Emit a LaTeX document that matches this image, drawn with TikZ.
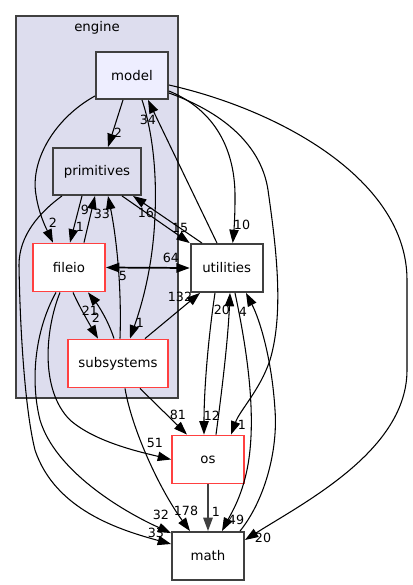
\documentclass[tikz,border=0pt]{standalone}
\usepackage{fontspec}
\setmainfont{DejaVu Sans}
\usetikzlibrary{arrows.meta,calc}
\definecolor{clfill}{HTML}{DDDDEE}
\definecolor{modfill}{HTML}{EEEEFF}
\definecolor{bord}{HTML}{404040}
\definecolor{redb}{HTML}{FF4040}
\begin{document}
\begin{tikzpicture}[x=0.75pt,y=-0.75pt,
  dnode/.style={draw=bord,line width=1.4pt,minimum width=54pt,minimum height=36pt,inner sep=0pt,font=\fontsize{10}{12}\selectfont},
  rnode/.style={dnode,draw=redb,fill=white},
  dep/.style={-{Triangle[length=10pt,width=7pt]},line width=0.8pt},
  dep2/.style={{Triangle[length=10pt,width=7pt]}-{Triangle[length=10pt,width=7pt]},line width=1.3pt},
  lab/.style={font=\fontsize{9.5}{11}\selectfont,inner sep=0pt}]
\useasboundingbox (0,0) rectangle (412,585);
\fill[white] (0,0) rectangle (412,585);
% cluster
\node[draw=bord,fill=clfill,line width=1pt,minimum width=121.5pt,minimum height=286.5pt,inner sep=0pt] (engine) at (97,207) {};
\node[font=\fontsize{10}{12}\selectfont,inner sep=0pt] (enginelab) at (97,28) {engine};
% nodes
\node[dnode,fill=modfill,minimum height=35.25pt] (model) at (132,75.5) {model};
\node[dnode,fill=clfill,minimum width=66pt,minimum height=35.25pt] (prim) at (97,171.5) {primitives};
\node[rnode] (fileio) at (69,267.5) {fileio};
\node[rnode,minimum width=75pt] (subs) at (118,363.5) {subsystems};
\node[dnode,fill=white] (util) at (226.7,268) {utilities};
\node[rnode] (os) at (208,459.5) {os};
\node[dnode,fill=white] (math) at (208,556) {math};
% edges from model
\draw[dep] ($(model.south)+(-9,0)$) -- ($(prim.north)+(11,0)$);
\draw[dep] ($(model.south west)+(0,-4)$) .. controls (55,118) and (30,160) .. (36,195) .. controls (39,215) and (47,230) .. ($(fileio.north)+(-16,0)$);
\draw[dep] ($(model.east)+(0,15.5)$) .. controls (215,110) and (236,150) .. (235,200) .. controls (235,215) and (234,230) .. ($(util.north)+(6,0)$);
\draw[dep] ($(model.east)+(0,17.5)$) .. controls (230,115) and (262,150) .. (268,190) .. controls (275,240) and (285,310) .. (270,360) .. controls (260,390) and (240,410) .. ($(os.north)+(23,0)$);
\draw[dep] ($(model.east)+(0,9.5)$) .. controls (280,110) and (407,180) .. (407,280) -- (407,370) .. controls (407,450) and (305,502) .. ($(math.east)+(0,-16)$);
\draw[dep] ($(model.south)+(10,0)$) .. controls (152,130) and (157,170) .. (155,215) .. controls (153,270) and (140,310) .. ($(subs.north)+(12,0)$);
% primitives
\draw[dep] ($(prim.south)+(-15,0)$) -- ($(fileio.north)+(1,0)$);
\draw[dep] ($(fileio.north)+(15,0)$) -- ($(prim.south)+(-2,0)$);
\draw[dep] ($(subs.north)+(2,0)$) .. controls (122,280) and (115,230) .. ($(prim.south)+(11,0)$);
\draw[dep] ($(prim.south)+(25,0)$) -- (util.north west);
\draw[dep] ($(util.north)+(-24.7,0)$) -- ($(prim.south)+(36,0)$);
\draw[dep] ($(util.north)+(-9.7,0)$) -- ($(model.south)+(16,0)$);
\draw[dep] ($(prim.south)+(-35,0)$) .. controls (40,212) and (19,235) .. (19,265) .. controls (20,330) and (25,410) .. (35,450) .. controls (55,510) and (120,530) .. ($(math.west)+(0,-12)$);
% fileio
\draw[dep2] (fileio.east) -- (util.west);
\draw[dep] ($(fileio.south)+(4,0)$) .. controls (80,308) and (90,325) .. ($(subs.north)+(-20,0)$);
\draw[dep] ($(subs.north)+(-4,0)$) .. controls (108,320) and (98,305) .. ($(fileio.south)+(19,0)$);
\draw[dep] ($(fileio.south)+(-9,0)$) .. controls (45,330) and (40,390) .. (70,420) .. controls (95,442) and (140,452) .. (os.west);
\draw[dep] ($(fileio.south)+(-13,0)$) .. controls (35,330) and (30,380) .. (40,420) .. controls (55,470) and (120,510) .. ($(math.north west)+(0,2)$);
% subsystems
\draw[dep] ($(subs.north)+(27,0)$) -- ($(util.south)+(-26.7,0)$);
\draw[dep] ($(subs.south)+(22,0)$) -- ($(os.north)+(-21,0)$);
\draw[dep] ($(subs.south)+(7,0)$) .. controls (132,430) and (160,490) .. ($(math.north)+(-18,0)$);
% utilities / os / math
\draw[dep] ($(util.south)+(-11.7,0)$) .. controls (208,340) and (204,390) .. ($(os.north)+(-4,0)$);
\draw[dep] ($(os.north)+(8,0)$) .. controls (222,390) and (228,340) .. ($(util.south)+(3.3,0)$);
\draw[dep] ($(util.south)+(8.3,0)$) .. controls (245,340) and (255,400) .. (250,450) .. controls (246,490) and (232,512) .. ($(math.north)+(14,0)$);
\draw[dep] ($(math.north)+(32,0)$) .. controls (265,500) and (278,450) .. (275,410) .. controls (272,360) and (260,320) .. ($(util.south)+(19.3,0)$);
\draw[-{Triangle[length=10pt,width=7pt]},line width=1.3pt,draw=bord] (os.south) -- (math.north);
% labels
\node[lab] (l1) at (118,133) {2};
\node[lab] (l2) at (53,223) {2};
\node[lab] (l3) at (242,225) {10};
\node[lab] (l4) at (242,425) {1};
\node[lab] (l5) at (263,538) {20};
\node[lab] (l6) at (140,323) {1};
\node[lab] (l7) at (80,227) {1};
\node[lab] (l8) at (85,210) {9};
\node[lab] (l9) at (102,214) {33};
\node[lab] (l10) at (180,228) {15};
\node[lab] (l11) at (146,213) {16};
\node[lab] (l12) at (148,120) {34};
\node[lab] (l13) at (171,258) {64};
\node[lab] (l14) at (123,276) {5};
\node[lab] (l15) at (90,311) {21};
\node[lab] (l16) at (96,318) {2};
\node[lab] (l17) at (180,297) {132};
\node[lab] (l18) at (178,415) {81};
\node[lab] (l19) at (186,511) {178};
\node[lab] (l20) at (155,443) {51};
\node[lab] (l21) at (161,515) {32};
\node[lab] (l22) at (156,533) {33};
\node[lab] (l23) at (212,416) {12};
\node[lab] (l24) at (222,310) {20};
\node[lab] (l25) at (243,312) {4};
\node[lab] (l26) at (236,520) {49};
\node[lab] (l27) at (216,512) {1};
\end{tikzpicture}
\end{document}
